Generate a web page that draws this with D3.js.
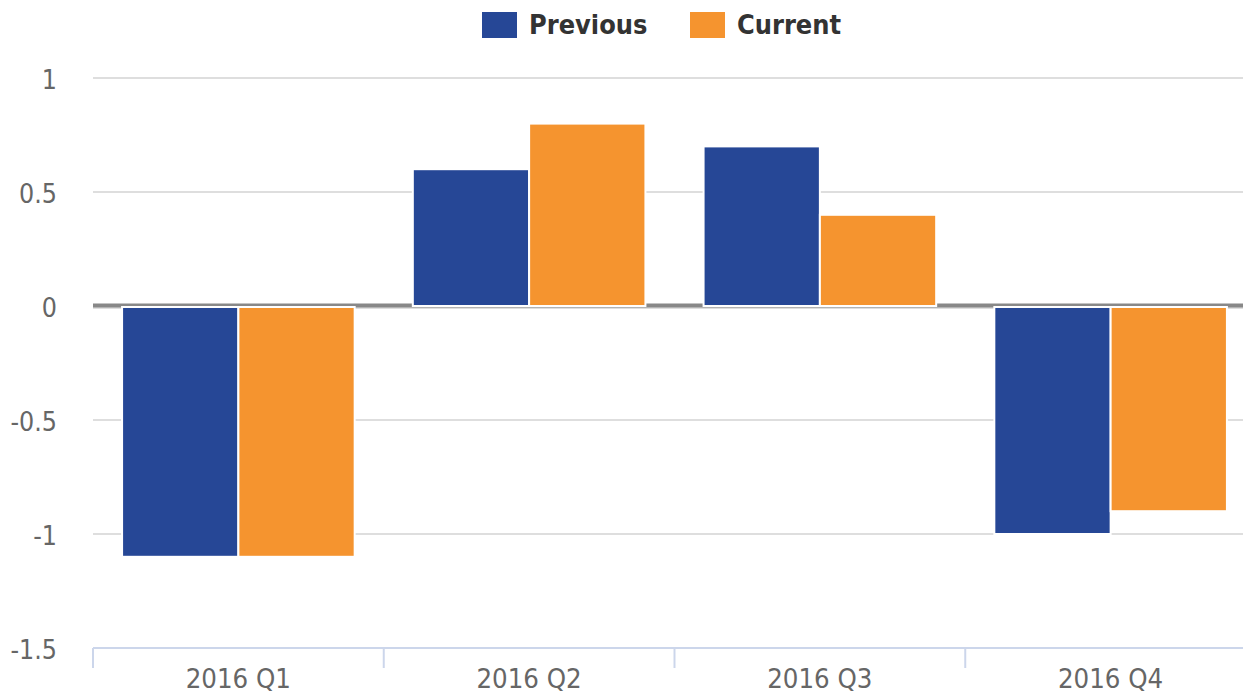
<!DOCTYPE html>
<html>
<head>
<meta charset="utf-8">
<script src="https://cdn.jsdelivr.net/npm/d3@7"></script>
<style>
  html, body { margin: 0; padding: 0; background: #fff; overflow: hidden; }
  svg { display: block; font-family: "DejaVu Sans Condensed", "DejaVu Sans", sans-serif; font-stretch: condensed; }
</style>
</head>
<body>
<div id="chart"></div>
<script>
const categories = ["2016 Q1", "2016 Q2", "2016 Q3", "2016 Q4"];
const seriesNames = ["Previous", "Current"];
const previous = [-1.1, 0.6, 0.7, -1.0];
const current = [-1.1, 0.8, 0.4, -0.9];
const yTicks = [-1.5, -1, -0.5, 0, 0.5, 1];

const colors = { Previous: "#264796", Current: "#F5942F" };

const W = 1243, H = 693;
const plot = { left: 93, right: 1256, top: 78, bottom: 648 };

const svg = d3.select("#chart").append("svg")
  .attr("width", W)
  .attr("height", H)
  .attr("viewBox", `0 0 ${W} ${H}`);

const x = d3.scaleBand()
  .domain(categories)
  .range([plot.left, plot.right])
  .paddingInner(0)
  .paddingOuter(0);

const xInner = d3.scaleBand()
  .domain(seriesNames)
  .range([0, x.bandwidth()])
  .paddingOuter(0.25)
  .paddingInner(0);

const y = d3.scaleLinear()
  .domain([-1.5, 1])
  .range([plot.bottom, plot.top]);

// gridlines
svg.append("g")
  .selectAll("line")
  .data(yTicks.filter(d => d !== -1.5))
  .join("line")
  .attr("x1", plot.left)
  .attr("x2", W)
  .attr("y1", d => y(d) + (d === 0 ? 2 : 0))
  .attr("y2", d => y(d) + (d === 0 ? 2 : 0))
  .attr("stroke", "#dedede")
  .attr("stroke-width", 2);

// zero plot line
svg.append("line")
  .attr("x1", plot.left)
  .attr("x2", W)
  .attr("y1", y(0) - 0.5)
  .attr("y2", y(0) - 0.5)
  .attr("stroke", "#888")
  .attr("stroke-width", 4);

// y labels
svg.append("g")
  .selectAll("text")
  .data(yTicks)
  .join("text")
  .attr("x", 57)
  .attr("y", d => y(d) + 10.5)
  .attr("text-anchor", "end")
  .attr("fill", "#666")
  .attr("font-size", "26.5px")
  .text(d => d3.format("")(d).replace("−", "-"));

// bars
const data = categories.map((c, i) => ({ cat: c, values: [
  { key: "Previous", value: previous[i] },
  { key: "Current", value: current[i] }
]}));

svg.append("g")
  .selectAll("g")
  .data(data)
  .join("g")
  .attr("transform", d => `translate(${x(d.cat)},0)`)
  .selectAll("rect")
  .data(d => d.values)
  .join("rect")
  .attr("x", d => xInner(d.key))
  .attr("width", xInner.bandwidth())
  .attr("y", d => d.value >= 0 ? y(d.value) : y(0) + 1)
  .attr("height", d => Math.abs(y(d.value) - y(0)) - (d.value >= 0 ? 0 : 1))
  .attr("fill", d => colors[d.key])
  .attr("stroke", "#fff")
  .attr("stroke-width", 2);

// x axis
const xAxis = svg.append("g");
xAxis.append("line")
  .attr("x1", plot.left)
  .attr("x2", W)
  .attr("y1", plot.bottom)
  .attr("y2", plot.bottom)
  .attr("stroke", "#ccd6eb")
  .attr("stroke-width", 2);

xAxis.selectAll("line.tick")
  .data(categories)
  .join("line")
  .attr("class", "tick")
  .attr("x1", d => x(d))
  .attr("x2", d => x(d))
  .attr("y1", plot.bottom)
  .attr("y2", plot.bottom + 20)
  .attr("stroke", "#ccd6eb")
  .attr("stroke-width", 2);

xAxis.selectAll("text")
  .data(categories)
  .join("text")
  .attr("x", d => x(d) + x.bandwidth() / 2)
  .attr("y", 688)
  .attr("text-anchor", "middle")
  .attr("fill", "#666")
  .attr("font-size", "27.3px")
  .text(d => d);

// legend
const legendItems = [
  { key: "Previous", x: 482, tx: 529 },
  { key: "Current", x: 690, tx: 737 }
];
const legend = svg.append("g");
legend.selectAll("rect")
  .data(legendItems)
  .join("rect")
  .attr("x", d => d.x)
  .attr("y", 12)
  .attr("width", 35)
  .attr("height", 26)
  .attr("fill", d => colors[d.key]);
legend.selectAll("text")
  .data(legendItems)
  .join("text")
  .attr("x", d => d.tx)
  .attr("y", 34)
  .attr("fill", "#333")
  .attr("font-weight", "bold")
  .attr("font-size", "26.9px")
  .text(d => d.key);
</script>
</body>
</html>
